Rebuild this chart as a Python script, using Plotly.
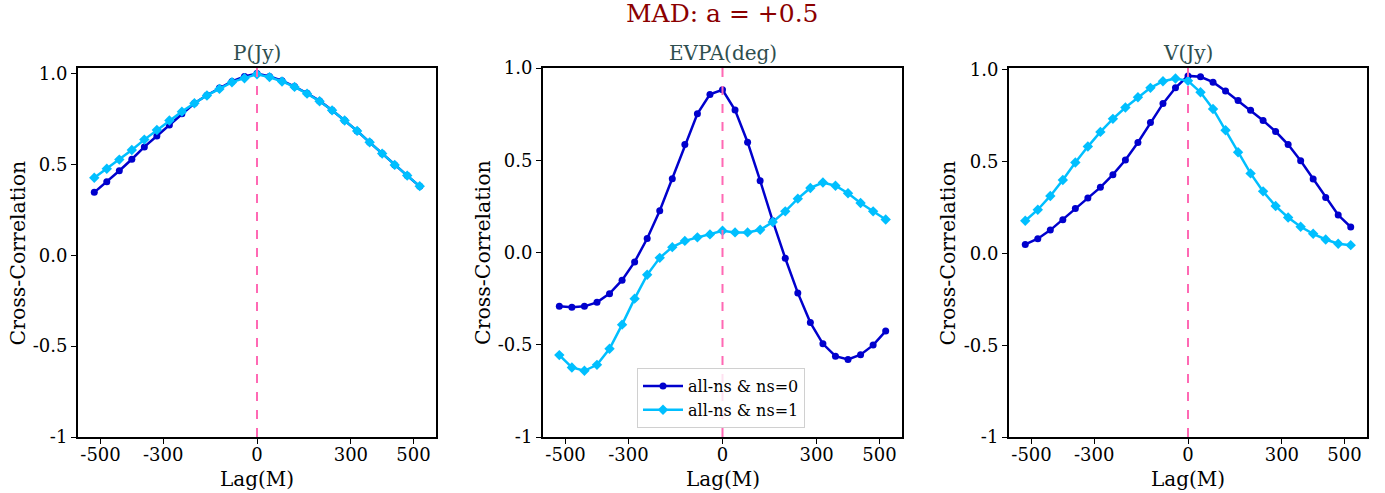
import plotly.graph_objects as go

lags = list(range(-520, 521, 40))

p_ns0 = [0.346, 0.404, 0.465, 0.528, 0.596, 0.656, 0.717, 0.778, 0.836, 0.880, 0.920, 0.956, 0.983, 1.000,
         0.983, 0.960, 0.928, 0.891, 0.849, 0.798, 0.741, 0.684, 0.621, 0.559, 0.496, 0.438, 0.379]
p_ns1 = [0.426, 0.476, 0.526, 0.579, 0.636, 0.689, 0.741, 0.790, 0.836, 0.879, 0.915, 0.952, 0.974, 0.996,
         0.980, 0.956, 0.926, 0.889, 0.847, 0.797, 0.741, 0.684, 0.621, 0.559, 0.497, 0.438, 0.380]

evpa_ns0 = [-0.292, -0.297, -0.292, -0.270, -0.223, -0.150, -0.051, 0.076, 0.226, 0.400, 0.585, 0.752, 0.857, 0.882,
            0.772, 0.598, 0.389, 0.172, -0.031, -0.219, -0.380, -0.495, -0.562, -0.580, -0.554, -0.502, -0.426]
evpa_ns1 = [-0.556, -0.623, -0.641, -0.609, -0.522, -0.391, -0.250, -0.121, -0.029, 0.029, 0.063, 0.082, 0.098, 0.118,
            0.109, 0.109, 0.123, 0.165, 0.223, 0.292, 0.350, 0.379, 0.362, 0.321, 0.268, 0.223, 0.179]

v_ns0 = [0.049, 0.080, 0.127, 0.184, 0.244, 0.302, 0.360, 0.429, 0.509, 0.604, 0.713, 0.816, 0.902, 0.967,
         0.962, 0.933, 0.885, 0.833, 0.780, 0.724, 0.664, 0.593, 0.505, 0.405, 0.304, 0.209, 0.144]
v_ns1 = [0.178, 0.238, 0.313, 0.400, 0.495, 0.582, 0.662, 0.733, 0.795, 0.851, 0.902, 0.938, 0.953, 0.940,
         0.878, 0.787, 0.671, 0.551, 0.436, 0.338, 0.258, 0.196, 0.145, 0.107, 0.076, 0.053, 0.045]

panel_titles = ["P(Jy)", "EVPA(deg)", "V(Jy)"]
series_names = ["all-ns & ns=0", "all-ns & ns=1"]
xtick_vals = [-500, -300, 0, 300, 500]
xtick_text = ["-500", "-300", "0", "300", "500"]
ytick_vals = [-1, -0.5, 0, 0.5, 1.0]
ytick_text = ["-1", "-0.5", "0.0", "0.5", "1.0"]

W, H = 1385, 493
FONT = "DejaVu Serif"
DARK = "#0000CD"
LIGHT = "#00BFFF"

panels = [(p_ns0, p_ns1), (evpa_ns0, evpa_ns1), (v_ns0, v_ns1)]
xpix = [(78, 436), (543, 902), (1009, 1367)]
ytop, ybot = 68, 437
yranges = [[-1, 1.03], [-1, 1.0], [-1, 1.01]]
ylabel_x = [17.5, 483, 947.5]

fig = go.Figure()
layout = dict(
    width=W, height=H,
    margin=dict(l=0, r=0, t=0, b=0, pad=0, autoexpand=False),
    paper_bgcolor="white", plot_bgcolor="white",
    font=dict(family=FONT, size=16, color="black"),
    showlegend=True,
    legend=dict(x=637 / W, y=1 - 368 / H, xanchor="left", yanchor="top",
                bgcolor="rgba(255,255,255,0.8)", bordercolor="#d0d0d0", borderwidth=1,
                font=dict(family=FONT, size=16, color="black"), tracegroupgap=0,
                itemwidth=40),
)
annotations = []
shapes = []
for i, (s0, s1) in enumerate(panels):
    k = "" if i == 0 else str(i + 1)
    xa, ya = "x" + k, "y" + k
    fig.add_trace(go.Scatter(x=lags, y=s0, mode="lines+markers", name=series_names[0],
                             line=dict(color=DARK, width=2.5),
                             marker=dict(symbol="circle", size=7, color=DARK),
                             xaxis=xa, yaxis=ya, showlegend=(i == 1)))
    fig.add_trace(go.Scatter(x=lags, y=s1, mode="lines+markers", name=series_names[1],
                             line=dict(color=LIGHT, width=2.5),
                             marker=dict(symbol="diamond", size=8, color=LIGHT),
                             xaxis=xa, yaxis=ya, showlegend=(i == 1)))
    x0, x1 = xpix[i]
    layout["xaxis" + k] = dict(domain=[x0 / W, x1 / W], anchor=ya, range=[-572, 572],
                               tickmode="array", tickvals=xtick_vals, ticktext=xtick_text,
                               ticks="outside", ticklen=5, tickwidth=1.3, tickcolor="black",
                               ticklabelstandoff=-5,
                               showline=True, linecolor="black", linewidth=2, mirror=True,
                               showgrid=False, zeroline=False, automargin=False,
                               tickfont=dict(family=FONT, size=18, color="black"))
    layout["yaxis" + k] = dict(domain=[1 - ybot / H, 1 - ytop / H], anchor=xa, range=yranges[i],
                               tickmode="array", tickvals=ytick_vals, ticktext=ytick_text,
                               ticks="outside", ticklen=5, tickwidth=1.3, tickcolor="black",
                               showline=True, linecolor="black", linewidth=2, mirror=True,
                               showgrid=False, zeroline=False, automargin=False,
                               tickfont=dict(family=FONT, size=18, color="black"))
    shapes.append(dict(type="line", xref=xa, yref=ya + " domain", x0=0, x1=0, y0=0, y1=1,
                       line=dict(color="#FF69B4", width=2, dash="dash"), layer="above"))
    cx = (x0 + x1) / 2
    annotations.append(dict(text=panel_titles[i], x=cx / W, y=1 - 53 / H, xref="paper", yref="paper",
                            xanchor="center", yanchor="middle", showarrow=False,
                            font=dict(family=FONT, size=20, color="#2F4F4F")))
    annotations.append(dict(text="Lag(M)", x=cx / W, y=1 - 479 / H, xref="paper", yref="paper",
                            xanchor="center", yanchor="middle", showarrow=False,
                            font=dict(family=FONT, size=20, color="black")))
    annotations.append(dict(text="Cross-Correlation", x=ylabel_x[i] / W, y=1 - 253 / H,
                            xref="paper", yref="paper", textangle=-90,
                            xanchor="center", yanchor="middle", showarrow=False,
                            font=dict(family=FONT, size=20.5, color="black")))

annotations.append(dict(text="MAD: a = +0.5", x=722 / W, y=1 - 14 / H, xref="paper", yref="paper",
                        xanchor="center", yanchor="middle", showarrow=False,
                        font=dict(family=FONT, size=25, color="#8B0000")))
layout["annotations"] = annotations
layout["shapes"] = shapes
fig.update_layout(**layout)
fig.write_html("out.html")
